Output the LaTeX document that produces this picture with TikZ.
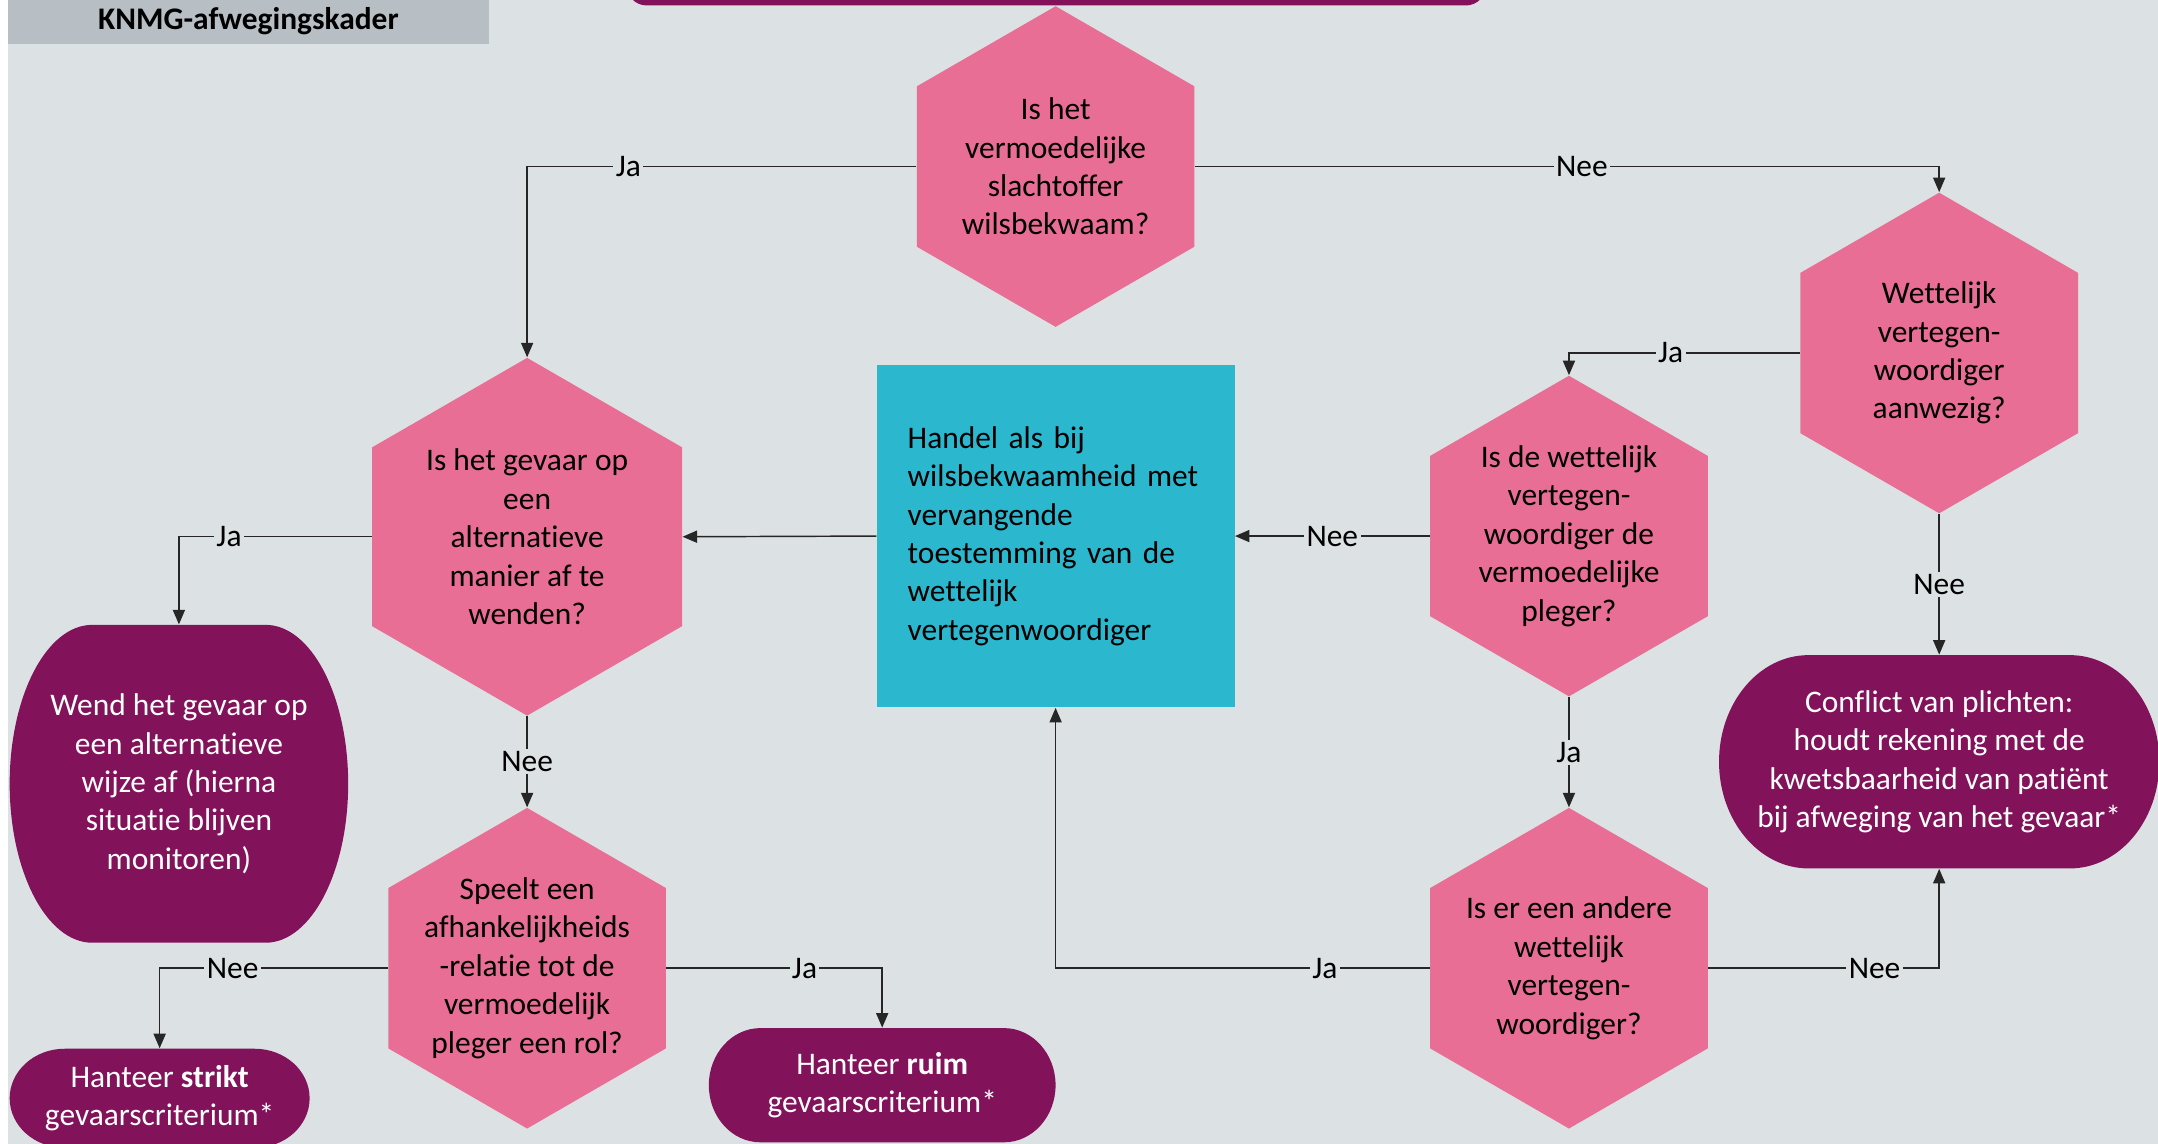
\documentclass[tikz,border=0pt]{standalone}
\usepackage{fontspec}
\setmainfont{Carlito}[Ligatures={NoCommon}]
\usetikzlibrary{shapes.geometric, arrows.meta}

\definecolor{bgblue}{HTML}{DCE1E4}
\definecolor{titlegrey}{HTML}{B8BFC4}
\definecolor{qpink}{HTML}{E86E96}
\definecolor{endpurple}{HTML}{82125A}
\definecolor{actcyan}{HTML}{2BB7CD}

\begin{document}
\begin{tikzpicture}[
            x=0.02cm, y=-0.02cm,
            font=\fontsize{13}{15.9}\selectfont,
            hexa/.style={regular polygon, regular polygon sides=6, shape border rotate=30,
                fill=qpink, inner sep=0pt, minimum size=#1},
            hexa/.default=4.66cm,
            qtext/.style={align=center, inner sep=0pt, text=black},
            terminal/.style n args={3}{rectangle, minimum width=#1, minimum height=#2,
                inner sep=0pt, text=white, align=center,
                path picture={
                    \fill[endpurple] ([xshift=#3]path picture bounding box.north west)
                        -- ([xshift=-#3]path picture bounding box.north east)
                        arc[start angle=90, end angle=-90, x radius=#3, y radius=#2/2]
                        -- ([xshift=#3]path picture bounding box.south west)
                        arc[start angle=270, end angle=90, x radius=#3, y radius=#2/2] -- cycle;
                }},
            conn/.style={draw=black!85, line width=0.6pt, -{Triangle[length=6pt, width=5pt]}},
            lab/.style={fill=bgblue, inner sep=1pt, text=black}
        ]
            \useasboundingbox (0,0) rectangle (1568,831);
            \clip (0,0) rectangle (1568,831);
            \fill[white] (0,0) rectangle (1568,831);
            \fill[bgblue] (6,0) rectangle (1568,831);

            % header
            \node[fill=titlegrey, minimum width=6.98cm, minimum height=0.68cm, font=\fontsize{13}{15.9}\selectfont\bfseries] (title) at (180.5,15) {KNMG-afwegingskader};
            \node[fill=endpurple, rounded corners=0.3cm, minimum width=12.5cm, minimum height=1.4cm] (start) at (767.5,-31) {};

            % questions
            \node[hexa, label={[qtext]center:{Is het\\vermoedelijke\\slachtoffer\\wilsbekwaam?}}] (wilsbekwaam) at (767,121) {};
            \node[hexa, label={[qtext]center:{Wettelijk\\vertegen-\\woordiger\\aanwezig?}}] (vertegenw) at (1409,256.5) {};
            \node[hexa=5.2cm, label={[qtext]center:{Is het gevaar op\\een\\alternatieve\\manier af te\\wenden?}}] (alternatief) at (383,390) {};
            \node[hexa, label={[qtext]center:{Is de wettelijk\\vertegen-\\woordiger de\\vermoedelijke\\pleger?}}] (pleger) at (1140,389.5) {};
            \node[hexa, label={[qtext]center:{Speelt een\\afhankelijkheids\\-relatie tot de\\vermoedelijk\\pleger een rol?}}] (afhankelijk) at (383,703.5) {};
            \node[hexa, label={[qtext]center:{Is er een andere\\wettelijk\\vertegen-\\woordiger?}}] (andere) at (1140,703.5) {};

            \node[fill=actcyan, minimum width=5.2cm, minimum height=4.98cm, text width=4.3cm, align=left] (vervangend) at (767,389.5) {Handel als bij\\wilsbekwaamheid met\\vervangende\\toestemming van de\\wettelijk\\vertegenwoordiger};

            % outcomes
            \node[terminal={4.92cm}{4.62cm}{1.2cm}] (wenden) at (130,569.5) {Wend het gevaar op\\een alternatieve\\wijze af (hierna\\situatie blijven\\monitoren)};
            \node[terminal={6.4cm}{3.1cm}{1.3cm}] (conflict) at (1409,553.5) {Conflict van plichten:\\houdt rekening met de\\kwetsbaarheid van patiënt\\bij afweging van het gevaar*};
            \node[terminal={4.36cm}{1.44cm}{0.8cm}] (strikt) at (116,798) {Hanteer \textbf{strikt}\\gevaarscriterium*};
            \node[terminal={5.04cm}{1.66cm}{0.75cm}] (ruim) at (641,788.5) {Hanteer \textbf{ruim}\\gevaarscriterium*};

            \draw[conn] (wilsbekwaam.west) -| node[lab, pos=0.37] {Ja} (alternatief.north);
            \draw[conn] (wilsbekwaam.east) -| node[lab, pos=0.26] {Nee} (vertegenw.north);
            \draw[conn] (vertegenw.west) -| node[lab, pos=0.28] {Ja} (pleger.north);
            \draw[conn] (vertegenw.south) -- node[lab] {Nee} (conflict.north);
            \draw[conn] (pleger.west) -- node[lab] {Nee} (vervangend.east);
            \draw[conn] (pleger.south) -- node[lab] {Ja} (andere.north);
            \draw[conn] (andere.west) -| node[lab, pos=0.14] {Ja} (vervangend.south);
            \draw[conn] (andere.east) -| node[lab, pos=0.36] {Nee} (conflict.south);
            \draw[conn] (vervangend.west) -- (alternatief.east);
            \draw[conn] (alternatief.west) -| node[lab, pos=0.37] {Ja} (wenden.north);
            \draw[conn] (alternatief.south) -- node[lab] {Nee} (afhankelijk.north);
            \draw[conn] (afhankelijk.west) -| node[lab, pos=0.34] {Nee} (strikt.north);
            \draw[conn] (afhankelijk.east) -| node[lab, pos=0.32] {Ja} (ruim.north);

        \end{tikzpicture}
\end{document}
